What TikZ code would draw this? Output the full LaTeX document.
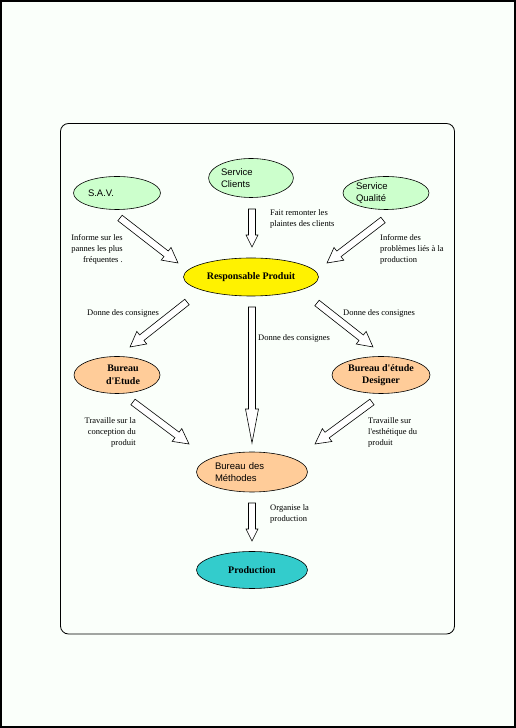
\documentclass[tikz,border=0pt]{standalone}
\usepackage{fontspec}
\setmainfont{Liberation Serif}
\newfontfamily\guisans{Liberation Sans}
\usepackage{tikz}
\usetikzlibrary{shapes.geometric, calc}

\definecolor{paper}{RGB}{250,255,250}
\definecolor{mint}{RGB}{204,255,204}
\definecolor{peach}{RGB}{255,204,153}
\definecolor{lagoon}{RGB}{51,204,204}

\begin{document}
\begin{tikzpicture}[
    x=1pt, y=1pt,
    bubble/.style={ellipse, draw, line width=0.6pt, inner sep=0pt},
    plain/.style={bubble, font=\guisans\fontsize{9.5}{12.5}\selectfont, align=left},
    boss/.style={bubble, font=\bfseries\fontsize{10}{12.5}\selectfont, align=center},
    note/.style={font=\fontsize{8.5}{11}\selectfont, inner sep=0pt},
    headlen/.store in=\headlen, headwid/.store in=\headwid,
    headlen=15, headwid=8,
    fatarrow/.style={draw, fill=white, line width=0.6pt, line join=miter,
      to path={let \p1=(\tikztostart), \p2=(\tikztotarget),
        \n1={atan2(\y2-\y1,\x2-\x1)}, \n2={veclen(\x2-\x1,\y2-\y1)} in
        [shift={(\p1)}, rotate=\n1]
        (0,3.5) -- (\n2-\headlen,3.5) -- (\n2-\headlen,\headwid) -- (\n2,0)
        -- (\n2-\headlen,-\headwid) -- (\n2-\headlen,-3.5) -- (0,-3.5) -- cycle}},
]
  \useasboundingbox (0,0) rectangle (516,728);
  \draw[line width=2pt, fill=paper] (1,1) rectangle (515,727);
  \draw[line width=0.8pt, rounded corners=8pt] (60.5,94) rectangle (454.5,604.5);

  % services
  \node[plain, fill=mint, minimum width=87pt, minimum height=33pt, text width=58pt] (sav) at (117,535) {S.A.V.};
  \node[plain, fill=mint, minimum width=83pt, minimum height=39pt, text width=60pt] (clients) at (251,550) {Service\\Clients};
  \node[plain, fill=mint, minimum width=86pt, minimum height=33pt, text width=60pt] (qualite) at (386,535) {Service\\Qualité};

  \node[boss, fill=yellow, minimum width=135pt, minimum height=38pt] (resp) at (251,451) {Responsable Produit};

  \node[boss, fill=peach, minimum width=86pt, minimum height=37pt] (etude) at (117,353) {\hspace*{12pt}Bureau\\\hspace*{12pt}d\textquotesingle Etude};
  \node[boss, fill=peach, minimum width=98pt, minimum height=37pt] (design) at (381,353) {Bureau d\textquotesingle étude\\Designer};
  \node[plain, fill=peach, minimum width=111pt, minimum height=40pt, text width=74pt] (methodes) at (252,256) {Bureau des\\Méthodes};
  \node[boss, fill=lagoon, minimum width=111pt, minimum height=37pt] (prod) at (252,158) {Production};

  % arrow ends
  \coordinate (sav-o) at (120,510);   \coordinate (resp-i1) at (178,465);
  \coordinate (cli-o) at (252,519);   \coordinate (resp-i2) at (252,481);
  \coordinate (qual-o) at (383,508);  \coordinate (resp-i3) at (327,465);
  \coordinate (resp-o1) at (187,426); \coordinate (etude-i) at (130,381);
  \coordinate (resp-o2) at (252,421); \coordinate (meth-i2) at (252,285);
  \coordinate (resp-o3) at (317,425); \coordinate (design-i) at (373,381);
  \coordinate (etude-o) at (133,326); \coordinate (meth-i1) at (189,284);
  \coordinate (design-o) at (372,326); \coordinate (meth-i3) at (315,284);
  \coordinate (meth-o) at (252,225);  \coordinate (prod-i) at (252,187);

  \draw[fatarrow] (sav-o) to (resp-i1);
  \draw[fatarrow, headlen=12, headwid=6] (cli-o) to (resp-i2);
  \draw[fatarrow] (qual-o) to (resp-i3);
  \draw[fatarrow] (resp-o1) to (etude-i);
  \draw[fatarrow, headlen=34, headwid=6.5] (resp-o2) to (meth-i2);
  \draw[fatarrow] (resp-o3) to (design-i);
  \draw[fatarrow] (etude-o) to (meth-i1);
  \draw[fatarrow] (design-o) to (meth-i3);
  \draw[fatarrow, headlen=12, headwid=6] (meth-o) to (prod-i);

  % labels
  \node[note, anchor=east, align=right] (n-sav) at (123,479) {Informe sur les\\pannes les plus\\fréquentes .};
  \node[note, anchor=west, align=left] (n-cli) at (270,509) {Fait remonter les\\plaintes des clients};
  \node[note, anchor=west, align=left] (n-qual) at (380,479) {Informe des\\problèmes liés à la\\production};
  \node[note, anchor=west] (n-left) at (87,415) {Donne des consignes};
  \node[note, anchor=west] (n-mid) at (258,390) {Donne des consignes};
  \node[note, anchor=west] (n-right) at (343,415) {Donne des consignes};
  \node[note, anchor=east, align=right] (n-etude) at (136,296) {Travaille sur la\\conception du\\produit};
  \node[note, anchor=west, align=left] (n-design) at (368,296) {Travaille sur\\l\textquotesingle esthétique du\\produit};
  \node[note, anchor=west, align=left] (n-meth) at (270,214) {Organise la\\production};
\end{tikzpicture}
\end{document}
